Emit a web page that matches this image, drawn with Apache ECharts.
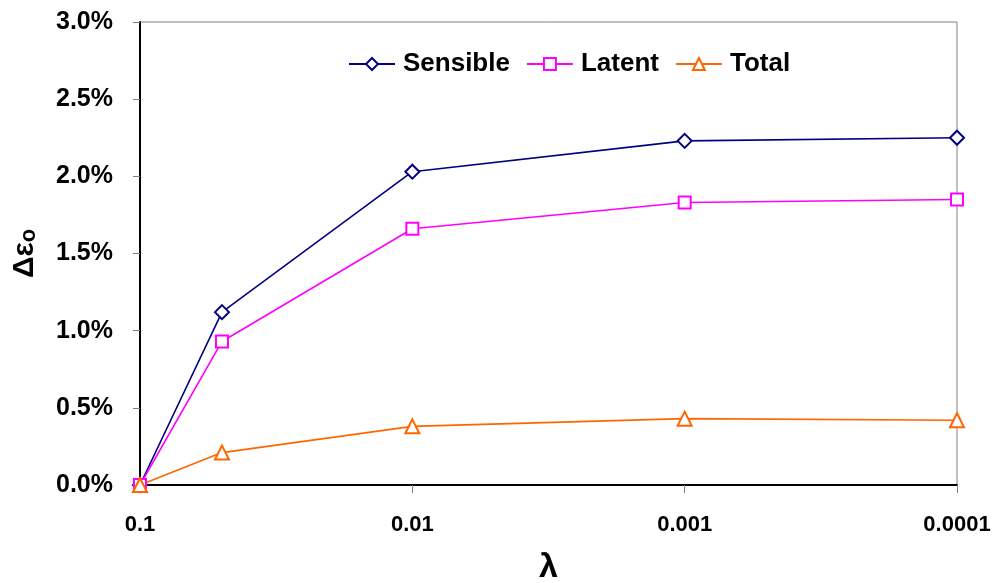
<!DOCTYPE html>
<html>
<head>
<meta charset="utf-8">
<script src="https://cdn.jsdelivr.net/npm/echarts@6/dist/echarts.min.js"></script>
<style>
  html, body { margin: 0; padding: 0; background: #fff; }
  #chart { width: 1000px; height: 583px; }
</style>
</head>
<body>
<div id="chart"></div>
<script>
// λ values (log scale, plotted from large to small)
const lambdas = [0.1, 0.05, 0.01, 0.001, 0.0001];
// Δεo in percent
const sensible = [0.00, 1.12, 2.03, 2.23, 2.25];
const latent   = [0.00, 0.93, 1.66, 1.83, 1.85];
const total    = [0.00, 0.21, 0.38, 0.43, 0.42];
const xTickLabels = ['0.1', '0.01', '0.001', '0.0001'];

const pairs = ys => lambdas.map((x, i) => [x, ys[i]]);
const FONT = 'Liberation Sans, Arial, sans-serif';

const chart = echarts.init(document.getElementById('chart'), null, { renderer: 'canvas' });

function lineSeries(name, ys, color, symbol, size) {
  return {
    name, type: 'line', data: pairs(ys),
    symbol, symbolSize: size, showSymbol: true,
    lineStyle: { color, width: 1.6 },
    itemStyle: { color, borderColor: color, borderWidth: 1.5 },
    emphasis: { disabled: true },
    z: 3
  };
}

chart.setOption({
  animation: false,
  backgroundColor: '#fff',
  grid: {
    left: 140, right: 43, top: 22, bottom: 98,
    containLabel: false, outerBoundsMode: 'none',
    show: true, borderColor: '#808080', borderWidth: 1
  },
  legend: {
    top: 51, left: 348, padding: 0,
    itemWidth: 46, itemHeight: 15, itemGap: 16,
    textStyle: { fontFamily: FONT, fontWeight: 'bold', fontSize: 26, color: '#000', padding: [0, 0, 0, 3] },
    data: ['Sensible', 'Latent', 'Total']
  },
  xAxis: {
    type: 'log', logBase: 10, min: 0.0001, max: 0.1, inverse: true,
    name: 'λ', nameLocation: 'middle', nameGap: 66,
    nameTextStyle: { fontFamily: FONT, fontWeight: 'bold', fontSize: 34, color: '#000' },
    axisLine: { show: true, onZero: false, lineStyle: { color: '#000', width: 2 } },
    axisTick: { show: true, inside: false, length: 8, lineStyle: { color: '#808080', width: 1 } },
    minorTick: { show: false },
    splitLine: { show: false },
    axisLabel: {
      margin: 29,
      fontFamily: FONT, fontWeight: 'bold', fontSize: 22, color: '#000',
      formatter: v => {
        const k = Math.round(-Math.log10(v)) - 1;
        return xTickLabels[k] !== undefined ? xTickLabels[k] : '';
      }
    }
  },
  yAxis: {
    type: 'value', min: 0, max: 3, interval: 0.5,
    name: 'Δε{sub|o}', nameLocation: 'middle', nameGap: 100, nameRotate: 90,
    nameTextStyle: {
      fontFamily: FONT, fontWeight: 'bold', fontSize: 30, color: '#000',
      rich: { sub: { fontFamily: FONT, fontWeight: 'bold', fontSize: 22, color: '#000', verticalAlign: 'bottom', padding: [6, 0, 0, 0] } }
    },
    axisLine: { show: true, lineStyle: { color: '#000', width: 2 } },
    axisTick: { show: true, inside: false, length: 7, lineStyle: { color: '#808080', width: 1 } },
    splitLine: { show: false },
    axisLabel: {
      margin: 27,
      fontFamily: FONT, fontWeight: 'bold', fontSize: 25, color: '#000',
      formatter: v => v.toFixed(1) + '%'
    }
  },
  series: [
    lineSeries('Sensible', sensible, '#000080', 'emptyDiamond', 14),
    lineSeries('Latent', latent, '#FF00FF', 'emptyRect', 12),
    lineSeries('Total', total, '#FF6600', 'emptyTriangle', 14)
  ]
});
</script>
</body>
</html>
